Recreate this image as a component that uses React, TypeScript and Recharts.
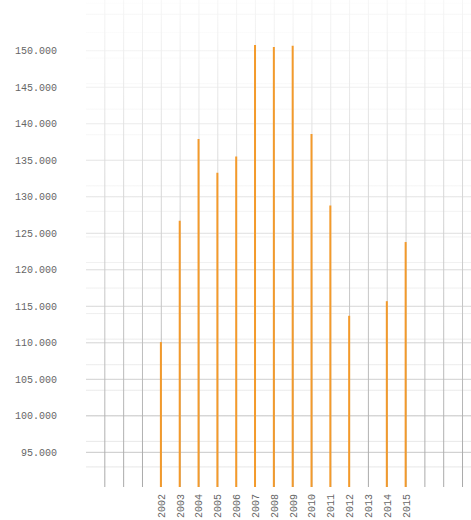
import { BarChart, Bar, XAxis, YAxis, CartesianGrid } from 'recharts';

const years = [2002, 2003, 2004, 2005, 2006, 2007, 2008, 2009, 2010, 2011, 2012, 2013, 2014, 2015];
const values = [110100, 126700, 137900, 133300, 135500, 150800, 150500, 150700, 138600, 128800, 113700, null, 115700, 123800];

const yTicks = [95000, 100000, 105000, 110000, 115000, 120000, 125000, 130000, 135000, 140000, 145000, 150000];
const majorTicks = [...yTicks, 155000];
const minorTicks = Array.from({ length: 133 }, (_, i) => 90500 + i * 500);
const gridYears = Array.from({ length: 20 }, (_, i) => 1999 + i);

const data = years.map((year, i) => ({ year, value: values[i] }));

const Y_DOMAIN: [number, number] = [90250, 156950];
const X_DOMAIN: [number, number] = [1998, 2018.45];
const MONO = '"Liberation Mono", "DejaVu Sans Mono", monospace';

const fmt = (v: number) => v.toLocaleString('de-DE');

function YearTick({ x, y, payload }: any) {
  const yr = payload.value;
  if (yr < 2002 || yr > 2015) return null;
  const ty = y - 1;
  return (
    <text
      x={x}
      y={ty}
      transform={`rotate(-90, ${x}, ${ty})`}
      textAnchor="end"
      dy="0.35em"
      fontSize={10}
      fontFamily={MONO}
      fill="#666"
    >
      {yr}
    </text>
  );
}

export default function App() {
  return (
    <div style={{ position: 'absolute', left: 0, top: 0 }}>
      <BarChart width={471} height={520} data={data} margin={{ top: 0, right: 0, bottom: 0, left: 0 }}>
        <defs>
          <linearGradient id="fadeMajor" gradientUnits="userSpaceOnUse" x1="0" y1="0" x2="0" y2="487">
            <stop offset="0" stopColor="#f8f8f8" />
            <stop offset="1" stopColor="#c4c4c4" />
          </linearGradient>
          <linearGradient id="fadeMinor" gradientUnits="userSpaceOnUse" x1="0" y1="0" x2="0" y2="487">
            <stop offset="0" stopColor="#fdfdfd" />
            <stop offset="1" stopColor="#e6e6e6" />
          </linearGradient>
          <linearGradient id="fadeVert" gradientUnits="userSpaceOnUse" x1="0" y1="0" x2="0" y2="487">
            <stop offset="0" stopColor="#f6f6f6" />
            <stop offset="1" stopColor="#a8a8a8" />
          </linearGradient>
        </defs>
        <XAxis
          dataKey="year"
          type="number"
          domain={X_DOMAIN}
          ticks={gridYears}
          interval={0}
          allowDataOverflow
          axisLine={false}
          tickLine={false}
          height={33}
          tick={<YearTick />}
        />
        <YAxis
          yAxisId="left"
          domain={Y_DOMAIN}
          ticks={yTicks}
          allowDataOverflow
          width={86}
          axisLine={false}
          tickLine={false}
          tickSize={0}
          tickMargin={29}
          tickFormatter={fmt}
          tick={{ fontSize: 10, fontFamily: MONO, fill: '#666' }}
        />
        <YAxis yAxisId="minor" hide domain={Y_DOMAIN} ticks={minorTicks} allowDataOverflow />
        <YAxis yAxisId="major" hide domain={Y_DOMAIN} ticks={majorTicks} allowDataOverflow />
        <CartesianGrid yAxisId="minor" vertical={false} syncWithTicks stroke="url(#fadeMinor)" />
        <CartesianGrid yAxisId="major" vertical={false} syncWithTicks stroke="url(#fadeMajor)" />
        <CartesianGrid yAxisId="major" horizontal={false} syncWithTicks stroke="url(#fadeVert)" />
        <Bar yAxisId="left" dataKey="value" fill="#f39a2b" barSize={2} isAnimationActive={false} />
      </BarChart>
    </div>
  );
}
